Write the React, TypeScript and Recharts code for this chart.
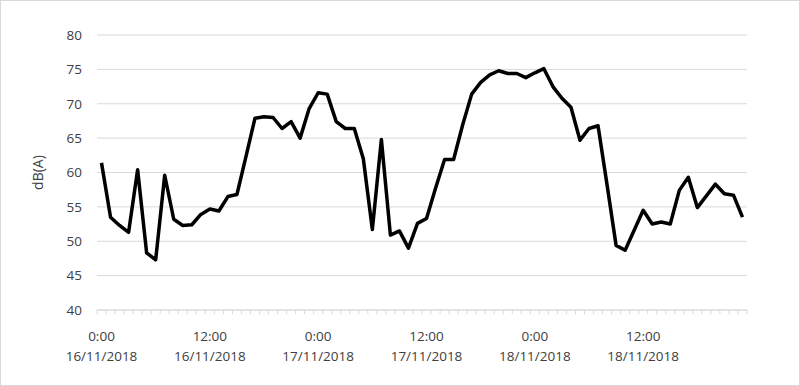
import React from 'react';
import { LineChart, Line, XAxis, YAxis, CartesianGrid } from 'recharts';

const days = ['16/11/2018', '17/11/2018', '18/11/2018'];
const hours = [
  '0:00', '1:00', '2:00', '3:00', '4:00', '5:00', '6:00', '7:00', '8:00', '9:00', '10:00', '11:00',
  '12:00', '13:00', '14:00', '15:00', '16:00', '17:00', '18:00', '19:00', '20:00', '21:00', '22:00', '23:00',
];
const noiseLevels = [
  61.4, 53.5, 52.3, 51.3, 60.4, 48.3, 47.3, 59.6, 53.2, 52.3, 52.4, 53.9,
  54.7, 54.4, 56.5, 56.8, 62.3, 67.9, 68.1, 68.0, 66.4, 67.4, 65.0, 69.3,
  71.6, 71.4, 67.4, 66.4, 66.4, 62.0, 51.7, 64.8, 50.9, 51.5, 49.0, 52.6,
  53.3, 57.7, 61.9, 61.9, 66.9, 71.4, 73.1, 74.2, 74.8, 74.4, 74.4, 73.8,
  74.5, 75.1, 72.5, 70.8, 69.5, 64.7, 66.4, 66.8, 58.2, 49.4, 48.7, 51.6,
  54.5, 52.5, 52.8, 52.5, 57.4, 59.3, 54.9, 56.6, 58.3, 56.9, 56.7, 53.5,
];
const yTicks = [40, 45, 50, 55, 60, 65, 70, 75, 80];
const labelEvery = 12;

const data = noiseLevels.map((v, i) => ({
  time: days[Math.floor(i / 24)] + ' ' + hours[i % 24],
  hour: hours[i % 24],
  day: days[Math.floor(i / 24)],
  db: v,
}));

const W = 800;
const H = 386;
const M = { top: 35, right: 53, left: 35, bottom: 26 };
const Y_AXIS_W = 62;
const X_AXIS_H = 50;
const PLOT_W = W - M.left - M.right - Y_AXIS_W;
const step = PLOT_W / data.length;
const FONT = '"Open Sans", "Liberation Sans", sans-serif';
const TEXT = '#404040';
const GRID = '#d9d9d9';

const XTick = (props: any) => {
  const { x, y, index } = props;
  const d = data[index];
  const isLast = index === data.length - 1;
  return (
    <g>
      <line x1={x - step / 2} x2={x - step / 2} y1={y} y2={y + 4} stroke={GRID} strokeWidth={1} />
      {isLast && <line x1={x + step / 2} x2={x + step / 2} y1={y} y2={y + 4} stroke={GRID} strokeWidth={1} />}
      {index % labelEvery === 0 && (
        <text textAnchor="middle" fontFamily={FONT} fontSize={13.5} fill={TEXT}>
          <tspan x={x} y={y + 31}>{d.hour}</tspan>
          <tspan x={x} y={y + 51}>{d.day}</tspan>
        </text>
      )}
    </g>
  );
};

const YLabel = (props: any) => {
  const { viewBox } = props;
  const cx = viewBox.x + 2;
  const cy = viewBox.y + viewBox.height / 2;
  return (
    <text
      x={cx}
      y={cy}
      transform={`rotate(-90, ${cx}, ${cy})`}
      textAnchor="middle"
      dominantBaseline="central"
      fontFamily={FONT}
      fontSize={14}
      fill={TEXT}
    >
      dB(A)
    </text>
  );
};

export default function App() {
  return (
    <div style={{ position: 'absolute', left: 0, top: 0, width: W, height: H, background: '#fff' }}>
      <LineChart width={W} height={H} data={data} margin={M}>
        <CartesianGrid vertical={false} stroke={GRID} strokeWidth={1} />
        <XAxis
          dataKey="time"
          interval={0}
          tickLine={false}
          tickSize={0}
          tickMargin={0}
          axisLine={{ stroke: GRID, strokeWidth: 1 }}
          padding={{ left: step / 2, right: step / 2 }}
          height={X_AXIS_H}
          tick={<XTick />}
        />
        <YAxis
          domain={[40, 80]}
          ticks={yTicks}
          interval={0}
          axisLine={false}
          tickLine={false}
          tickSize={0}
          tickMargin={15}
          width={Y_AXIS_W}
          tick={{ fill: TEXT, fontSize: 13.5, fontFamily: FONT }}
          label={<YLabel />}
        />
        <Line
          type="linear"
          dataKey="db"
          stroke="#000"
          strokeWidth={3.5}
          strokeLinejoin="round"
          dot={false}
          activeDot={false}
          isAnimationActive={false}
        />
      </LineChart>
      <div
        style={{
          position: 'absolute',
          left: 0,
          top: 0,
          width: W,
          height: H,
          boxSizing: 'border-box',
          border: '1px solid #d9d9d9',
          pointerEvents: 'none',
        }}
      />
    </div>
  );
}
